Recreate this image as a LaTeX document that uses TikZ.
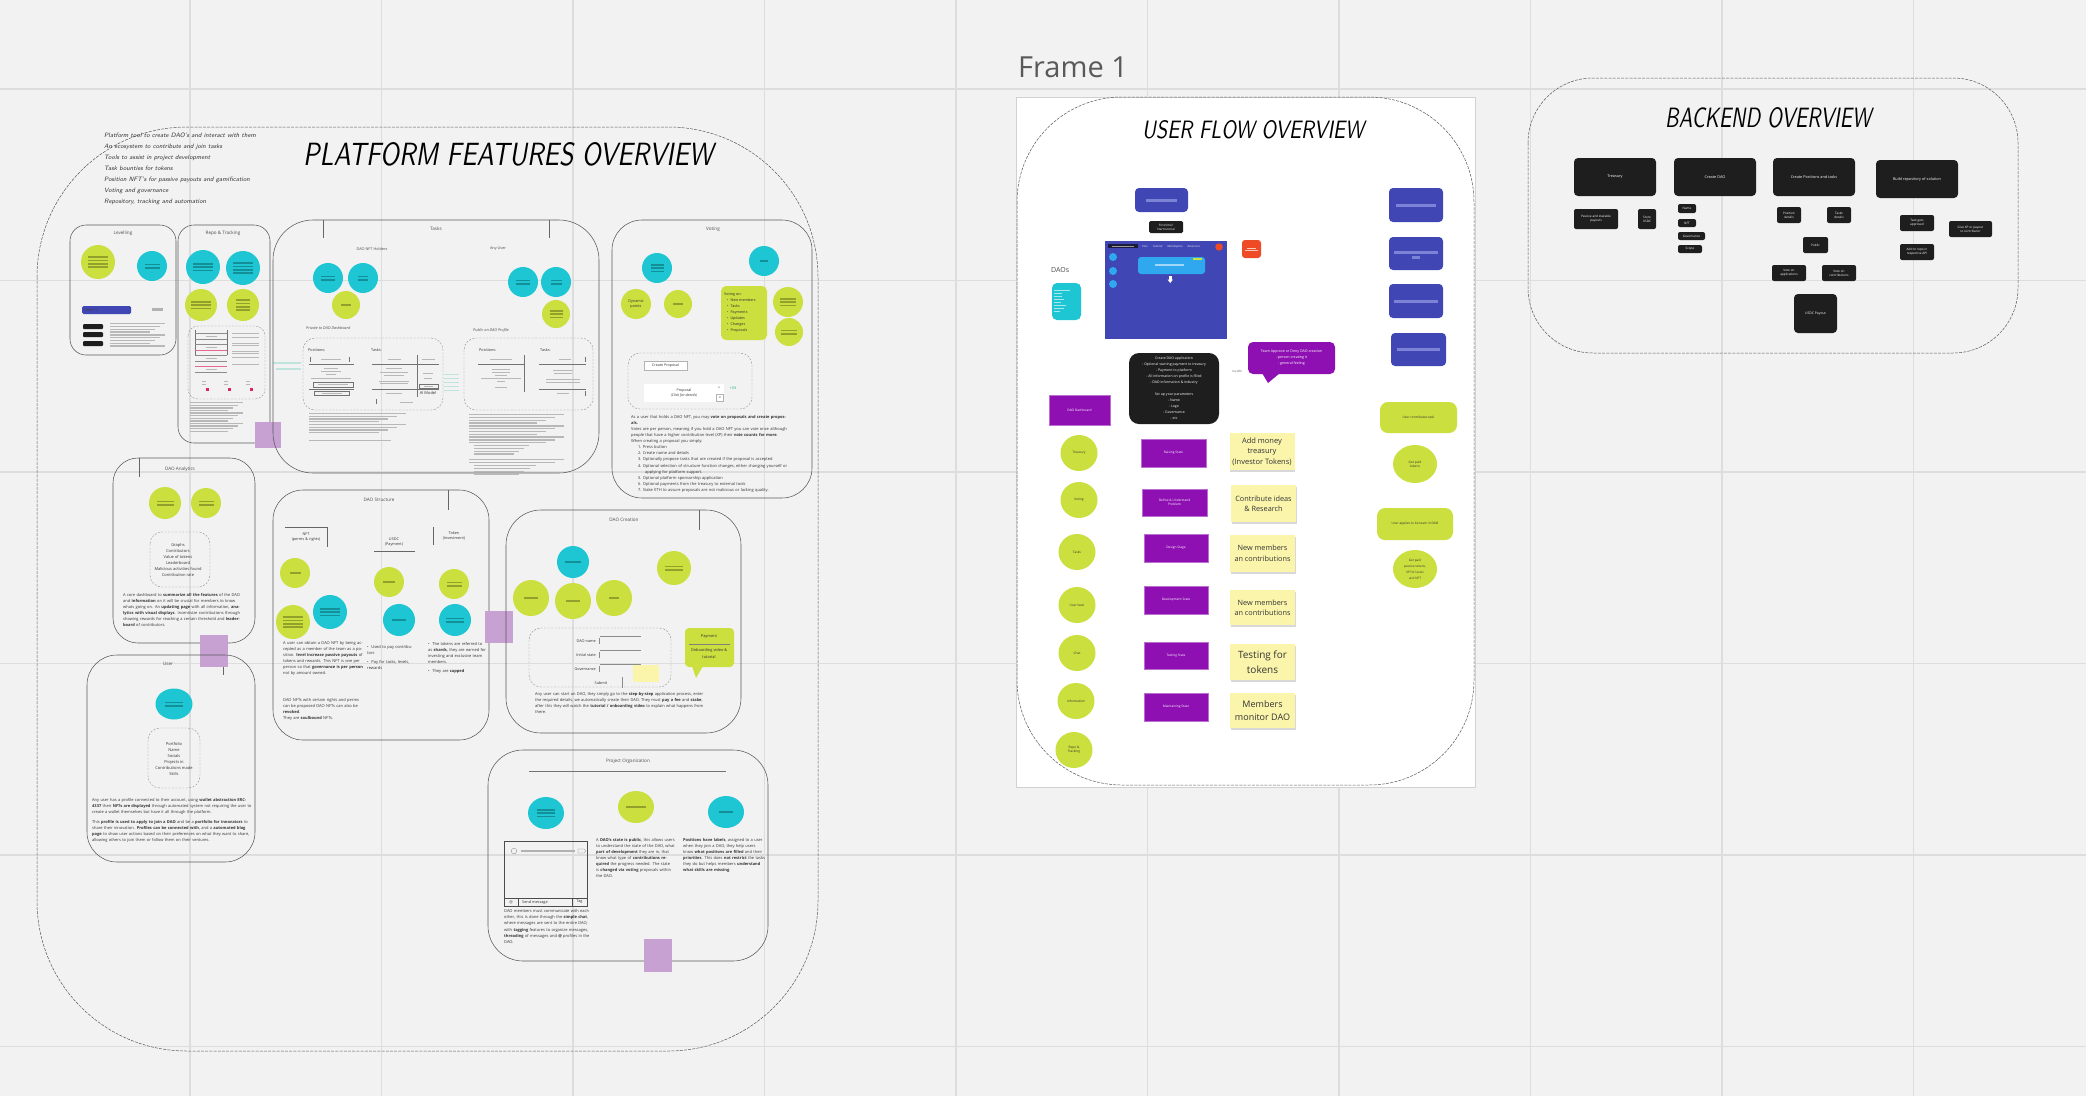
\documentclass[tikz,border=0pt]{standalone}
\usepackage{fontspec}
\setmainfont{Open Sans}
\usepackage{graphicx}
\usetikzlibrary{shapes.geometric,calc,shadows}
\definecolor{bgc}{HTML}{F2F2F2}
\definecolor{gridc}{HTML}{DDDDDD}
\definecolor{ygreen}{HTML}{CBDF3E}
\definecolor{cyanc}{HTML}{1DC6D2}
\definecolor{lilac}{HTML}{C6A1D2}
\definecolor{indigo}{HTML}{4046B4}
\definecolor{indbar}{HTML}{7C82D6}
\definecolor{violet}{HTML}{8E0FB2}
\definecolor{sticky}{HTML}{FBF5AC}
\definecolor{inkc}{HTML}{1E1E1E}
\definecolor{orangec}{HTML}{EF4A26}
\definecolor{txtc}{HTML}{333333}
\definecolor{skyc}{HTML}{2FA8F0}
\definecolor{tealpale}{HTML}{BFE3DD}
\definecolor{navyc}{HTML}{1A1A3A}
\definecolor{redc}{HTML}{E0245E}
\newcommand\hand{\sffamily\itshape}
\newcommand\fs[2]{\fontsize{#1}{#2}\selectfont}
\newcommand\pbars[4]{\foreach \ii in {1,...,#3}{\fill[barc] ({#1-(#4)/2},{#2+(\ii-(#3+1)/2)*3.4-0.8}) rectangle ++(#4,1.7);}}
\newcommand\glines[5]{\foreach \ii in {1,...,#3}{\pgfmathsetmacro\glw{#4*(0.72+0.28*mod(\ii*3,4)/3)}\fill[gtext] (#1,{#2+(\ii-1)*#5}) rectangle ++(\glw,1.3);}}
\tikzset{
 cont/.style={draw=black!65, line width=0.5pt, dash pattern=on 3pt off 1.2pt},
 modbox/.style={draw=black!65, line width=0.55pt},
 dbox/.style={draw=black!45, line width=0.4pt, dash pattern=on 2pt off 1.5pt},
 ygc/.style={circle, fill=ygreen, inner sep=0pt, minimum size=32pt},
 cyc/.style={circle, fill=cyanc, inner sep=0pt, minimum size=32pt},
 barc/.style={black, opacity=0.28},
 gtext/.style={black!28},
 mtitle/.style={font=\fs{4.6}{5}, text=black!70, inner sep=0},
 para/.style={font=\fs{4}{6.1}, text=txtc, align=left, inner sep=0, anchor=north west},
 small/.style={font=\fs{3.8}{4.5}, text=txtc, inner sep=0},
 bk/.style={fill=inkc, rounded corners=4pt, text=white, font=\fs{3.8}{4.8}, align=center, inner sep=0.5pt},
 bks/.style={fill=inkc, rounded corners=2pt, text=white, font=\fs{3.1}{4}, align=center, inner sep=0.3pt},
 st/.style={fill=violet, draw=violet!60!white, line width=0.3pt, text=white, font=\fs{3.2}{4}, align=center, inner sep=0.5pt, minimum width=64pt, minimum height=28pt},
 ufc/.style={ellipse, fill=ygreen, inner sep=0pt, minimum width=37pt, minimum height=36pt, font=\fs{3.2}{4}, align=center, text=txtc},
 bl/.style={fill=indigo, rounded corners=4pt, inner sep=0},
 note/.style={fill=sticky, text=txtc, align=center, inner sep=0, minimum width=65pt, drop shadow={shadow xshift=0.6pt, shadow yshift=-2.2pt, opacity=0.3}},
}
\begin{document}
\begin{tikzpicture}[x=1pt,y=-1pt]
\useasboundingbox (0,0) rectangle (2086,1096);
\fill[bgc] (0,0) rectangle (2086,1096);
\foreach \gx in {-1.5,190,381.5,573,764.5,956,1147.5,1339,1530.5,1722,1913.5}{\draw[gridc,line width=1.2pt] (\gx,0) -- (\gx,1096);}
\foreach \gy in {89,280.5,472,663.5,855,1046.5}{\draw[gridc,line width=1.6pt] (0,\gy) -- (2086,\gy);}

% ================= PLATFORM FEATURES =================
\draw[cont, rounded corners=150pt] (37,127) rectangle (818,1051);
\node[anchor=north west, inner sep=0] (ptitle) at (303,142) {\resizebox{410pt}{23pt}{\hand PLATFORM FEATURES OVERVIEW}};
\node[anchor=north west, inner sep=0, align=left, font=\hand\fs{6.3}{11}, text=black!80] (pnotes) at (104,133) {Platform tool to create DAO's and interact with them\\An ecosystem to contribute and join tasks\\Tools to assist in project development\\Task bounties for tokens\\Position NFT's for passive payouts and gamification\\Voting and governance\\Repository, tracking and automation};

% ---- Levelling
\draw[modbox, rounded corners=16pt] (70,225) rectangle (176,355);
\node[mtitle] (lvt) at (123,233) {Levelling};
\node[ygc, minimum size=34pt] (lv1) at (98,262) {}; \pbars{98}{262}{4}{20}
\node[cyc, minimum size=30pt] (lv2) at (152,266) {}; \pbars{152}{266}{2}{15}
\node[fill=indigo, rounded corners=1.5pt, minimum width=49pt, minimum height=8pt, inner sep=1pt, anchor=west, font=\fs{4}{4}, text=black!75, align=left, text width=45pt] (lvbar) at (82,310) {Level 5};
\fill[black!30] (152,308) rectangle (163,310.5);
\foreach \yy in {324,332,341}{\fill[inkc, rounded corners=1pt] (83,\yy) rectangle (103,\yy+5);}
\glines{110}{323}{9}{55}{2.8}

% ---- Repo & Tracking
\draw[modbox, rounded corners=16pt] (178,225) rectangle (270,443);
\node[mtitle] (rpt) at (223,233) {Repo \& Tracking};
\node[cyc, minimum size=34pt] (rp1) at (203,267) {}; \pbars{203}{267}{3}{20}
\node[cyc, minimum size=34pt] (rp2) at (243,268) {}; \pbars{243}{268}{4}{20}
\node[ygc, minimum size=32pt] (rp3) at (201,305) {}; \pbars{201}{305}{3}{20}
\node[ygc, minimum size=32pt] (rp4) at (243,305) {}; \pbars{243}{305}{4}{14}
\draw[dbox, rounded corners=10pt] (188,326) rectangle (265,399);
\draw[black!55, line width=.3pt] (195,330) -- (195,355) (227,330) -- (227,355);
\foreach \yy in {333,339,344,355,361,372}{\draw[black!45, line width=.3pt] (195,\yy) -- (227,\yy);}
\foreach \yy in {350,366}{\draw[redc!70, line width=.3pt] (195,\yy) -- (227,\yy);}
\foreach \yy in {336,347,358,369}{\fill[gtext] (206,\yy) rectangle (217,\yy+1.2);}
\foreach \yy in {333,337,343,345,351,353,357,364}{\fill[gtext] (232,\yy) rectangle (259,\yy+1.1);}
\foreach \xx in {207,229,251}{\fill[gtext] (\xx-5,381) rectangle (\xx-1,382); \fill[gtext] (\xx-5,384) rectangle (\xx-1,385); \fill[redc] (\xx-1,387.5) rectangle (\xx+2.3,390.8);}
\glines{190}{402}{12}{53}{2.6}
\fill[lilac] (255,422) rectangle (281,448);
\fill[tealpale] (273,362) rectangle (301,363.5);
\fill[tealpale] (276,368) rectangle (301,369.5);

% ---- Tasks
\draw[modbox, rounded corners=40pt] (273,220) rectangle (599,473);
\draw[black!60, line width=.5pt] (323,238) -- (323,220) (549,220) -- (549,238);
\node[mtitle] (tkt) at (436,229) {Tasks};
\node[mtitle, font=\fs{3.8}{4}] (tkh) at (372,249) {DAO NFT Holders};
\node[mtitle, font=\fs{3.8}{4}] (tka) at (498,249) {Any User};
\node[cyc, minimum size=30pt] (tk1) at (328,278) {}; \pbars{328}{278}{2}{14}
\node[cyc, minimum size=30pt] (tk2) at (363,278) {}; \pbars{363}{278}{2}{10}
\node[ygc, minimum size=28pt] (tk3) at (346,305) {}; \pbars{346}{305}{1}{10}
\node[cyc, minimum size=30pt] (tk4) at (523,282) {}; \pbars{523}{282}{2}{14}
\node[cyc, minimum size=30pt] (tk5) at (556,282) {}; \pbars{556}{282}{2}{11}
\node[ygc, minimum size=28pt] (tk6) at (556,314) {}; \pbars{556}{314}{3}{13}
\node[font=\itshape\fs{3.8}{4}, text=black!70, anchor=west, inner sep=0] (tkp) at (306,328) {Private to DAO Dashboard};
\node[font=\itshape\fs{3.8}{4}, text=black!70, anchor=west, inner sep=0] (tkq) at (473,330) {Public on DAO Profile};
\draw[dbox, rounded corners=12pt] (303,338) rectangle (443,410);
\node[small, anchor=west] (tkpos1) at (308,350) {Positions:};
\node[small, anchor=west] (tktsk1) at (371,350) {Tasks:};
\draw[black!55, line width=.3pt] (310,357) -- (310,362) (349,357) -- (349,362) (309,364) -- (354,364);
\fill[gtext] (321,358.5) rectangle (341,359.8);
\foreach \yy/\ww in {368/14,371/20,374/10,378/40}{\fill[gtext] ({331-\ww/2},\yy) rectangle ({331+\ww/2},\yy+1.2);}
\draw[black!55, line width=.3pt] (313,382) rectangle (353,387) (309,389) -- (354,389) (314,391) rectangle (349,395);
\fill[gtext] (318,384) rectangle (348,385.2); \fill[gtext] (322,392.5) rectangle (342,393.7);
\draw[black!55, line width=.3pt] (372,364) -- (439,364) (417,355) -- (417,397) (372,389) -- (439,389) (419,384) rectangle (438,388);
\fill[gtext] (388,358.5) rectangle (401,359.8); \fill[gtext] (422,358.5) rectangle (435,359.8);
\foreach \yy/\ww in {368/16,372/28,375/20,381/30,383/28}{\fill[gtext] ({394-\ww/2},\yy) rectangle ({394+\ww/2},\yy+1.2);}
\fill[gtext] (423,373) rectangle (433,374.2); \fill[gtext] (424,378) rectangle (432,379.2); \fill[gtext] (424,385.5) rectangle (433,386.6);
\fill[gtext] (386,392.5) rectangle (402,393.7); \fill[gtext] (400,402) rectangle (413,403.2);
\draw[black!55, line width=.3pt] (376,399) -- (376,404);
\node[small, font=\fs{4}{4}] (tkai) at (428,393) {AI Model};
\foreach \yy in {374,378,382,386,390}{\fill[tealpale] (444,\yy) rectangle (459,\yy+1.4);}
\draw[dbox, rounded corners=12pt] (464,338) rectangle (593,410);
\node[small, anchor=west] (tkpos2) at (479,350) {Positions:};
\node[small, anchor=west] (tktsk2) at (540,350) {Tasks:};
\draw[black!55, line width=.3pt] (478,364) -- (524,364) (524,355) -- (524,392) (539,364) -- (586,364) (539,389) -- (586,389) (585,357) -- (585,362) (585,391) -- (585,396);
\fill[gtext] (490,358.5) rectangle (512,359.8); \fill[gtext] (559,358.5) rectangle (571,359.8);
\foreach \yy/\ww in {369/18,372/18,375/12,378/40,381/8,387/12}{\fill[gtext] ({501-\ww/2},\yy) rectangle ({501+\ww/2},\yy+1.2);}
\foreach \yy/\ww in {370/20,373/18,379/34,382/34}{\fill[gtext] ({563-\ww/2},\yy) rectangle ({563+\ww/2},\yy+1.2);}
\fill[gtext] (557,392.5) rectangle (569,393.7);
\glines{309}{413}{8}{97}{2.7}
\fill[gtext] (309,440) rectangle (391,441.3);
\glines{469}{414}{11}{95}{2.8}
\glines{474}{445}{4}{55}{2.8}
\glines{469}{459}{2}{95}{2.8}
\glines{474}{465}{4}{62}{2.8}

% ---- Voting
\draw[modbox, rounded corners=30pt] (612,220) rectangle (812,498);
\node[mtitle] (vtt) at (713,229) {Voting};
\node[cyc, minimum size=30pt] (vc1) at (657,268) {}; \pbars{657}{268}{3}{13}
\node[cyc, minimum size=30pt] (vc2) at (764,261) {}; \pbars{764}{261}{1}{8}
\node[ygc, minimum size=30pt, font=\fs{3.8}{5}, align=center, text=txtc] (vy1) at (636,304) {Dynamic\\points};
\node[ygc, minimum size=28pt] (vy2) at (678,304) {}; \pbars{678}{304}{1}{10}
\node[fill=ygreen, rounded corners=5pt, minimum width=46pt, minimum height=54pt, inner sep=0] (vbox) at (744,313) {};
\node[anchor=north west, font=\fs{3.7}{6}, text=txtc, align=left, inner sep=0] (vlist) at (724,293) {Voting on:\\\hspace*{3pt}\textbullet\ \ New members\\\hspace*{3pt}\textbullet\ \ Tasks\\\hspace*{3pt}\textbullet\ \ Payments\\\hspace*{3pt}\textbullet\ \ Updates\\\hspace*{3pt}\textbullet\ \ Changes\\\hspace*{3pt}\textbullet\ \ Proposals};
\node[ygc, minimum size=30pt] (vy3) at (788,302) {}; \pbars{788}{302}{3}{16}
\node[ygc, minimum size=28pt] (vy4) at (789,332) {}; \pbars{789}{332}{2}{16}
\draw[dbox, rounded corners=12pt] (628,353) rectangle (752,409);
\node[draw=black!30, fill=white, minimum width=43pt, minimum height=9pt, inner sep=0, font=\fs{3.6}{4}, text=txtc] (vcp) at (665.5,365.5) {Create Proposal};
\node[fill=white, minimum width=80pt, minimum height=18pt, inner sep=0, font=\fs{3.6}{4.8}, align=center, text=txtc] (vpr) at (684,393) {Proposal\\\textit{(Click for details)}};
\node[font=\fs{3.6}{4}, text=txtc, inner sep=0] (vup) at (719,388) {\textasciicircum};
\node[draw=black!30, fill=white, minimum size=7pt, inner sep=0, font=\fs{3.4}{4}, text=txtc] (vdn) at (720,398) {v};
\node[font=\fs{3.6}{4}, text=teal!70!green, inner sep=0] (vpl) at (733,388) {+33};
\node[para, text width=159pt] (vpara) at (631,415) {As a user that holds a DAO NFT, you may \textbf{vote on proposals and create proposals.}\\Votes are per person, meaning if you hold a DAO NFT you can vote once although people that have a higher contribution level (XP) their \textbf{vote counts for more}.\\When creating a proposal you simply:\\\hspace*{7pt}1.\ Press button\\\hspace*{7pt}2.\ Create name and details\\\hspace*{7pt}3.\ Optionally propose tasks that are created if the proposal is accepted\\\hspace*{7pt}4.\ Optional selection of structure function changes, either changing yourself or\\\hspace*{14pt}applying for platform support.\\\hspace*{7pt}5.\ Optional platform sponsorship application\\\hspace*{7pt}6.\ Optional payments from the treasury to external tools\\\hspace*{7pt}7.\ Stake ETH to assure proposals are not malicious or lacking quality.};

% ---- DAO Analytics
\draw[modbox, rounded corners=25pt] (113,458) rectangle (255,643);
\draw[black!60, line width=.5pt] (139,458) -- (139,477);
\node[mtitle] (ant) at (180,469) {DAO Analytics};
\node[ygc, minimum size=32pt] (an1) at (165,503) {}; \pbars{165}{503}{2}{17}
\node[ygc, minimum size=30pt] (an2) at (206,503) {}; \pbars{206}{503}{2}{15}
\draw[dbox, rounded corners=12pt] (150,532) rectangle (210,587);
\node[font=\fs{4}{6}, align=center, text=txtc, inner sep=0] (anl) at (178,560) {Graphs\\Contributors\\Value of tokens\\Leaderboard\\Malicious activities found\\Contribution rate};
\node[para, text width=118pt] (anp) at (123,593) {A core dashboard to \textbf{summarize all the features} of the DAO and \textbf{information} on it will be crucial for members to know whats going on. An \textbf{updating page} with all information, \textbf{analytics with visual displays}. Incentivize contributions through showing rewards for reaching a certain threshold and \textbf{leaderboard} of contributors.};
\fill[lilac] (200,635) rectangle (228,667);

% ---- User
\draw[modbox, rounded corners=30pt] (87,655) rectangle (255,862);
\draw[black!60, line width=.5pt] (223,667) -- (223,675);
\node[mtitle] (ust) at (168,664) {User};
\node[ellipse, fill=cyanc, inner sep=0, minimum width=37pt, minimum height=31pt] (us1) at (174,704) {}; \pbars{174}{704}{2}{18}
\draw[dbox, rounded corners=12pt] (148,728) rectangle (200,788);
\node[font=\fs{4}{6}, align=center, text=txtc, inner sep=0] (usl) at (174,759) {Portfolio\\Name\\Socials\\Projects in\\Contributions made\\Skills};
\node[para, text width=162pt] (usp1) at (92,798) {Any user has a profile connected to their account, using \textbf{wallet abstraction ERC-4337} their \textbf{NFTs are displayed} through automated system not requiring the user to create a wallet themselves but have it all through the platform.};
\node[para, text width=162pt] (usp2) at (92,820) {This \textbf{profile is used to apply to join a DAO} and be a \textbf{portfolio for innovators} to share their innovation. \textbf{Profiles can be connected with}, and a \textbf{automated blog page} to show user actions based on their preferences on what they want to share, allowing others to join them or follow them on their ventures.};

% ---- DAO Structure
\draw[modbox, rounded corners=30pt] (273,490) rectangle (489,740);
\draw[black!60, line width=.5pt] (448,490) -- (448,510);
\node[mtitle] (dst) at (379,500) {DAO Structure};
\node[small, align=center, font=\fs{3.8}{5.5}] (dsn) at (306,537) {NFT\\(perms \& rights)};
\draw[black!60, line width=.4pt] (285,527) -- (327,527) -- (327,547);
\node[small, align=center, font=\fs{3.8}{5.5}] (dsu) at (394,542) {USDC\\(Payment)};
\draw[black!60, line width=.4pt] (374,551) -- (415,551);
\node[small, align=center, font=\fs{3.8}{5.5}] (dstk) at (454,536) {Token\\(Investment)};
\draw[black!60, line width=.4pt] (433,527) -- (433,545);
\node[ygc, minimum size=30pt] (ds1) at (295,573) {}; \pbars{295}{573}{1}{11}
\node[ygc, minimum size=34pt] (ds2) at (293,622) {}; \pbars{293}{622}{4}{20}
\node[cyc, minimum size=34pt] (ds3) at (330,612) {}; \pbars{330}{612}{3}{20}
\node[ygc, minimum size=30pt] (ds4) at (389,582) {}; \pbars{389}{582}{1}{12}
\node[cyc, minimum size=32pt] (ds5) at (399,620) {}; \pbars{399}{620}{1}{14}
\node[ygc, minimum size=30pt] (ds6) at (454,584) {}; \pbars{454}{584}{2}{15}
\node[cyc, minimum size=32pt] (ds7) at (455,620) {}; \pbars{455}{620}{2}{18}
\node[para, text width=81pt] (dsp1) at (283,641) {A user can obtain a DAO NFT by being accepted as a member of the team as a position. \textbf{level increase passive payouts} of tokens and rewards. This NFT is one per person so that \textbf{governance is per person} not by amount owned.};
\node[para, text width=81pt] (dsp2) at (283,698) {DAO NFTs with certain rights and perms can be proposed DAO NFTs can also be \textbf{revoked}.\\They are \textbf{soulbound} NFTs.};
\node[para, text width=46pt] (dsp3) at (367,645) {\textbullet\ \ Used to pay contributors\\[3pt]\textbullet\ \ Pay for tasks, levels, rewards};
\node[para, text width=60pt] (dsp4) at (428,642) {\textbullet\ \ The tokens are referred to as \textbf{shards}, they are earned for investing and exclusive team members.\\[3pt]\textbullet\ \ They are \textbf{capped}};
\fill[lilac] (485,611) rectangle (513,643);

% ---- DAO Creation
\draw[modbox, rounded corners=35pt] (506,510) rectangle (741,733);
\draw[black!60, line width=.5pt] (699,510) -- (699,530);
\node[mtitle] (dct) at (624,520) {DAO Creation};
\node[cyc, minimum size=32pt] (dc1) at (573,562) {}; \pbars{573}{562}{1}{16}
\node[ygc, minimum size=34pt] (dc2) at (674,568) {}; \pbars{674}{568}{2}{18}
\node[ygc, minimum size=36pt] (dc3) at (531,598) {}; \pbars{531}{598}{1}{14}
\node[ygc, minimum size=36pt] (dc4) at (573,601) {}; \pbars{573}{601}{1}{14}
\node[ygc, minimum size=36pt] (dc5) at (614,598) {}; \pbars{614}{598}{1}{10}
\draw[dbox, rounded corners=12pt] (529,628) rectangle (671,687);
\node[small, anchor=east] (dcf1) at (596,641) {DAO name};
\node[small, anchor=east] (dcf2) at (596,655) {Initial state};
\node[small, anchor=east] (dcf3) at (596,669) {Governance};
\foreach \yy in {641,655,669}{\draw[black!45, line width=.3pt] (599.5,\yy-3) -- (599.5,\yy+3) (599.5,\yy-4.5) -- (641,\yy-4.5);}
\fill[sticky] (633,665) rectangle (659,682);
\node[small] (dcsub) at (601,683) {Submit};
\draw[black!45, line width=.3pt] (622,677) -- (622,688);
\fill[ygreen, rounded corners=4pt] (685,628) rectangle (734,667);
\fill[ygreen] (692,666) -- (696,678) -- (703,666) -- cycle;
\node[small, font=\fs{3.9}{4.5}] (dcpay) at (709,637) {Payment};
\draw[black!50, line width=.3pt] (689,644) -- (730,644);
\node[small, font=\fs{3.9}{7}, align=center] (dcon) at (709,653.5) {Onboarding video \&\\tutorial};
\node[para, text width=172pt] (dcp) at (535,692) {Any user can start an DAO, they simply go to the \textbf{step-by-step} application process, enter the required details, we automatically create their DAO. They must \textbf{pay a fee} and \textbf{stake}, after this they will watch the \textbf{tutorial / onboarding video} to explain what happens from there.};

% ---- Project Organization
\draw[modbox, rounded corners=35pt] (488,750) rectangle (768,961);
\node[mtitle] (pot) at (628,761) {Project Organization};
\draw[black!55, line width=.4pt] (529,771) -- (726,771);
\node[ellipse, fill=cyanc, inner sep=0, minimum width=36pt, minimum height=32pt] (po1) at (546,813) {}; \pbars{546}{813}{3}{18}
\node[ellipse, fill=ygreen, inner sep=0, minimum width=36pt, minimum height=32pt] (po2) at (636,807) {}; \pbars{636}{807}{1}{20}
\node[ellipse, fill=cyanc, inner sep=0, minimum width=36pt, minimum height=32pt] (po3) at (726,812) {}; \pbars{726}{812}{1}{14}
\draw[black!70, line width=.4pt] (504,841) rectangle (587,906) (504,898) -- (587,898) (518,898) -- (518,906) (572,898) -- (572,906);
\draw[black!50, line width=.3pt] (514,851) circle (2.8pt);
\fill[black!30] (521,850.4) rectangle (575,851.6);
\draw[black!50, line width=.3pt] (578,849) -- (584,849) -- (586,851) -- (584,853) -- (578,853) -- cycle;
\node[small, font=\fs{3.8}{4}] (poat) at (511,902) {@};
\node[small, font=\fs{3.8}{4}, anchor=west] (posm) at (522,902) {Send message};
\node[small, font=\fs{3.8}{4}] (potag) at (579.5,902) {Tag};
\node[para, text width=92pt] (pop1) at (504,909.5) {DAO members must communicate with each other, this is done through the \textbf{simple chat}, where messages are sent to the entire DAO, with \textbf{tagging} features to organize messages, \textbf{threading} of messages and \textbf{@} profiles in the DAO.};
\node[para, text width=80pt] (pop2) at (596,838) {A \textbf{DAO's state is public}, this allows users to understand the state of the DAO, what \textbf{part of development} they are in, that know what type of \textbf{contributions required} the progress needed. The state is \textbf{changed via voting} proposals within the DAO.};
\node[para, text width=82pt] (pop3) at (683,838) {\textbf{Positions have labels}, assigned to a user when they join a DAO, they help users know \textbf{what positions are filled} and their \textbf{priorities}. This does \textbf{not restrict} the tasks they do but helps members \textbf{understand what skills are missing}.};
\fill[lilac] (644,939) rectangle (672,972);

% ================= USER FLOW =================
\node[anchor=base west, inner sep=0, font=\fs{29}{30}, text=black!65] (frame) at (1018,77) {Frame 1};
\fill[white] (1016,97) rectangle (1475,787);
\draw[black!18, line width=.6pt] (1016,97) rectangle (1475,787);
\draw[cont, rounded corners=105pt] (1017,97) rectangle (1474,785);
\node[anchor=north west, inner sep=0] (uftitle) at (1142,120) {\resizebox{222pt}{18pt}{\hand USER FLOW OVERVIEW}};
% blue boxes
\node[bl, minimum width=53pt, minimum height=24pt] (ufb0) at (1161.5,200) {};
\fill[indbar] (1146,199) rectangle (1177,201.5);
\node[bl, minimum width=54pt, minimum height=34pt] (ufb1) at (1416,205) {};
\fill[indbar] (1396,204) rectangle (1436,206.5);
\node[bl, minimum width=54pt, minimum height=33pt] (ufb2) at (1416,253.5) {};
\fill[indbar] (1394,251) rectangle (1438,253.5); \fill[indbar] (1412,256) rectangle (1420,258.5);
\node[bl, minimum width=54pt, minimum height=34pt] (ufb3) at (1416,301) {};
\fill[indbar] (1394,300) rectangle (1438,302.5);
\node[bl, minimum width=55pt, minimum height=33pt] (ufb4) at (1418.5,349.5) {};
\fill[indbar] (1397,348) rectangle (1440,350.5);
\node[fill=inkc, rounded corners=1.5pt, minimum width=34pt, minimum height=12pt, inner sep=0, text=white, font=\fs{3}{4}, align=center] (uftut) at (1166,227) {First time?\\Start tutorial};
% screen
\node[fill=indigo, minimum width=122pt, minimum height=98pt, inner sep=0] (ufscr) at (1166,290) {};
\fill[navyc] (1108,244) rectangle (1138,248);
\fill[black!40] (1112,245.5) rectangle (1134,246.5);
\node[font=\itshape\fs{2.8}{3}, text=white!85!indigo, anchor=west, inner sep=0] (ufmenu) at (1142,247) {Pass\hspace{5pt}Tutorial\hspace{5pt}Marketplace\hspace{5pt}Resources};
\fill[orangec] (1219,247) circle (3.7pt);
\foreach \yy in {257,271,284}{\fill[skyc] (1113,\yy) circle (4pt);}
\node[fill=skyc, rounded corners=3pt, minimum width=67pt, minimum height=17pt, inner sep=0] (ufcard) at (1171.5,265.5) {};
\fill[skyc!45!white] (1155,264) rectangle (1184,266.2);
\fill[ygreen] (1193,258) rectangle (1202,260);
\fill[white] (1169,276) rectangle (1171.5,280);
\fill[white] (1167.5,279.5) -- (1173,279.5) -- (1170.2,283) -- cycle;
\node[fill=orangec, rounded corners=3pt, minimum width=19pt, minimum height=18pt, inner sep=0] (uforg) at (1251.5,249) {};
\fill[white!70!orangec] (1247,248) rectangle (1256,248.8); \fill[white!70!orangec] (1245,250) rectangle (1258,250.8);
\node[font=\fs{7}{8}, text=black!70, anchor=west, inner sep=0] (ufdaos) at (1051,270) {DAOs};
\node[fill=cyanc, rounded corners=5pt, minimum width=29pt, minimum height=37pt, inner sep=0] (ufdl) at (1066.5,301.5) {};
\foreach \yy/\ww in {290/16,293/8,296/8,299/10,302/7,305/12,308/10,311/6}{\fill[white!60!cyanc] (1054,\yy) rectangle (1054+\ww,\yy+0.8);}
% application box and bubble
\node[fill=inkc, rounded corners=10pt, minimum width=90pt, minimum height=71pt, inner sep=0, text=white, font=\fs{3.5}{6}, align=center] (ufapp) at (1174,388.5) {Create DAO application\\- Optional starting payment to treasury\\- Payment to platform\\- All information on profile is filled\\- DAO information \& industry\\[6pt]Set up your parameters\\- Name\\- Logo\\- Governance\\- etc};
\fill[violet] (1262,373) -- (1268,383) -- (1280,373) -- cycle;
\node[fill=violet, rounded corners=5pt, minimum width=87pt, minimum height=32pt, inner sep=0, text=white, font=\fs{3.6}{6}, align=center] (ufteam) at (1291.5,358) {Team Approve or Deny DAO creation\\- person creating it\\- general feeling};
\node[font=\itshape\fs{2.8}{3}, text=black!60, inner sep=0] (uffee) at (1237,371) {Fee 800};
\node[st, minimum width=61pt, minimum height=30pt] (ufdash) at (1079.5,410) {DAO Dashboard};
% left circles
\node[ufc] (ufc1) at (1079,453) {Treasury};
\node[ufc] (ufc2) at (1079,500) {Voting};
\node[ufc] (ufc3) at (1077,552) {Tasks};
\node[ufc] (ufc4) at (1077,605) {User level};
\node[ufc] (ufc5) at (1077,653) {Chat};
\node[ufc] (ufc6) at (1076,701) {Information};
\node[ufc] (ufc7) at (1074,750) {Repo \&\\Tracking};
% states
\node[st, minimum width=65pt] (ufs1) at (1173.5,453) {Raising State};
\node[st, minimum width=65pt, minimum height=27pt] (ufs2) at (1174.5,502.5) {Define \& Understand\\Problem};
\node[st] (ufs3) at (1176,548) {Design Stage};
\node[st] (ufs4) at (1176,600) {Development State};
\node[st, minimum height=27pt] (ufs5) at (1176,655.5) {Testing State};
\node[st] (ufs6) at (1176,707) {Maintaining State};
% sticky notes
\node[note, minimum height=37pt, font=\fs{7.5}{10.5}] (ufn1) at (1262,451.5) {Add money\\treasury\\(Investor Tokens)};
\node[note, minimum height=37pt, font=\fs{7.3}{10}] (ufn2) at (1263.5,503.5) {Contribute ideas\\\& Research};
\node[note, minimum height=37pt, font=\fs{7.3}{11}] (ufn3) at (1262.5,553.5) {New members\\an contributions};
\node[note, minimum height=35pt, font=\fs{7.3}{10}] (ufn4) at (1262.5,607.5) {New members\\an contributions};
\node[note, minimum height=36pt, font=\fs{10}{15}] (ufn5) at (1262.5,662) {Testing for\\tokens};
\node[note, minimum height=35pt, font=\fs{9}{13.3}] (ufn6) at (1262.5,710.5) {Members\\monitor DAO};
% right column
\node[fill=ygreen, rounded corners=8pt, minimum width=77pt, minimum height=31pt, inner sep=0, font=\fs{3.2}{4}, text=txtc] (ufr1) at (1418.5,417.5) {User contributes task};
\node[ufc, minimum width=44pt, minimum height=38pt] (ufr2) at (1415,464) {Get paid\\tokens};
\node[fill=ygreen, rounded corners=8pt, minimum width=76pt, minimum height=32pt, inner sep=0, font=\fs{3.2}{4}, text=txtc] (ufr3) at (1415,524) {User applies to be team in DAO};
\node[ufc, minimum width=44pt, minimum height=38pt, font=\fs{3.1}{6}] (ufr4) at (1415,569) {Get paid\\passive tokens,\\XP for levels\\and NFT};

% ================= BACKEND =================
\draw[cont, rounded corners=65pt] (1528,78) rectangle (2018,353);
\node[anchor=north west, inner sep=0] (bktitle) at (1665,107) {\resizebox{206pt}{20pt}{\hand BACKEND OVERVIEW}};
\node[bk, minimum width=82pt, minimum height=38pt] (bt) at (1615,177) {Treasury};
\node[bk, minimum width=82pt, minimum height=38pt] (bc) at (1715,177) {Create DAO};
\node[bk, minimum width=82pt, minimum height=38pt] (bp) at (1814,177) {Create Positions and tasks};
\node[bk, minimum width=82pt, minimum height=38pt] (br) at (1917,179) {Build repository of solution};
\node[bks, minimum width=44pt, minimum height=20pt] (bt1) at (1596,219) {Passive and stakable\\payouts};
\node[bks, minimum width=18pt, minimum height=20pt] (bt2) at (1647,219) {Store\\USDC};
\node[bks, minimum width=18pt, minimum height=9pt] (bc1) at (1687,208.5) {Name};
\node[bks, minimum width=18pt, minimum height=8pt] (bc2) at (1687,223) {NFT};
\node[bks, minimum width=27pt, minimum height=8pt] (bc3) at (1691.5,236) {Governance};
\node[bks, minimum width=24pt, minimum height=8pt] (bc4) at (1690,249) {Scope};
\node[bks, minimum width=24pt, minimum height=16pt] (bp1) at (1789,215) {Position\\details};
\node[bks, minimum width=24pt, minimum height=16pt] (bp2) at (1839,215) {Tasks\\details};
\node[bks, minimum width=25pt, minimum height=16pt] (bp3) at (1815.5,245) {Public};
\node[bks, minimum width=34pt, minimum height=16pt] (bp4) at (1789,273) {Vote on\\applications};
\node[bks, minimum width=34pt, minimum height=16pt] (bp5) at (1839,273) {Vote on\\contributions};
\node[bk, minimum width=43pt, minimum height=39pt, font=\fs{3.4}{4}] (bp6) at (1815.5,313.5) {USDC Payout};
\node[bks, minimum width=34pt, minimum height=16pt] (br1) at (1917,223) {Task gets\\approved};
\node[bks, minimum width=34pt, minimum height=16pt] (br2) at (1917,252) {Add to repo in\\respective API};
\node[bks, minimum width=43pt, minimum height=16pt] (br3) at (1970.5,229) {Give XP or payout\\to contributor};
\end{tikzpicture}
\end{document}
